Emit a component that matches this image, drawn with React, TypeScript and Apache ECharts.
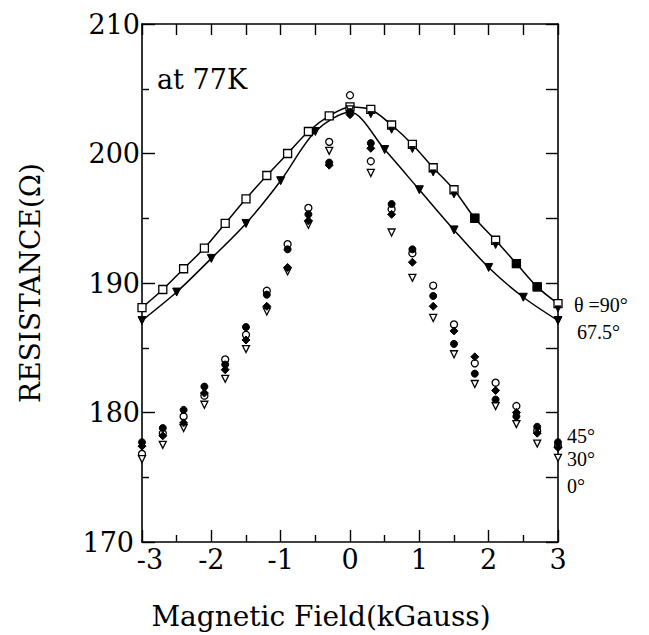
import React, { useEffect, useRef } from "react";
import * as echarts from "echarts";

const field = [-3.0, -2.7, -2.4, -2.1, -1.8, -1.5, -1.2, -0.9, -0.6, -0.3, 0.0, 0.3, 0.6, 0.9, 1.2, 1.5, 1.8, 2.1, 2.4, 2.7, 3.0];
const r90 = [188.1, 189.5, 191.1, 192.7, 194.6, 196.5, 198.3, 200.0, 201.7, 202.9, 203.6, 203.4, 202.2, 200.7, 198.9, 197.2, 195.0, 193.3, 191.5, 189.7, 188.4];
const field675 = [-3.0, -2.5, -2.0, -1.5, -1.0, -0.5, 0.0, 0.5, 1.0, 1.5, 2.0, 2.5, 3.0];
const r675 = [187.1, 189.3, 191.9, 194.6, 197.9, 201.7, 203.2, 200.3, 197.2, 194.1, 191.2, 188.9, 187.1];

const rOpenCircle = [176.8, 178.4, 179.7, 181.3, 184.1, 186.0, 189.4, 193.0, 195.8, 200.9, 204.5, 199.4, 195.7, 192.3, 189.8, 186.8, 183.8, 182.3, 180.5, 178.6, 177.4];
const r45 = [177.7, 178.8, 180.2, 182.0, 183.7, 186.6, 189.1, 192.6, 195.3, 199.3, 203.2, 200.8, 196.1, 192.6, 189.0, 185.3, 183.0, 181.0, 179.7, 178.9, 177.7];
const r30 = [177.4, 178.2, 179.2, 181.5, 183.3, 185.6, 188.2, 191.2, 194.8, 199.1, 203.0, 200.4, 195.3, 191.6, 188.2, 186.3, 184.3, 181.7, 180.0, 178.4, 177.3];
const r0 = [176.4, 177.5, 178.8, 180.6, 182.6, 184.9, 187.8, 190.9, 194.5, 200.2, 203.4, 198.5, 193.9, 190.4, 187.3, 184.5, 182.2, 180.5, 179.1, 177.6, 176.5];

const fieldOverlayTri = [0.3, 0.6, 0.9, 1.2, 1.5, 2.1, 3.0];
const rOverlayTri = [203.0, 201.8, 200.3, 198.5, 196.8, 192.9, 188.0];
const fieldFilledSq = [1.8, 2.4, 2.7];
const rFilledSq = [195.0, 191.5, 189.7];

const xTicks = [-3, -2, -1, 0, 1, 2, 3];
const yTicks = [170, 180, 190, 200, 210];

const angleLabels = ["θ =90°", "67.5°", "45°", "30°", "0°"];
const tempLabel = "at 77K";

const pairs = (xs: number[], ys: number[]) => xs.map((x, i) => [x, ys[i]]);

export default function App() {
  const ref = useRef<HTMLDivElement>(null);
  useEffect(() => {
    if (!ref.current) return;
    const chart = echarts.init(ref.current, null, { renderer: "svg" });
    const serif = "DejaVu Serif";
    const times = "Liberation Serif";
    const black = "#000";
    const openMarker = { color: "#fff", borderColor: black, borderWidth: 1.3, opacity: 1 };
    const filledMarker = { color: black, borderColor: black, borderWidth: 1, opacity: 1 };
    const sideLabel = (text: string, left: number, top: number) => ({
      type: "text",
      left,
      top,
      style: { text, font: `20px '${times}'`, fill: black },
    });
    const tickFont = { fontFamily: serif, fontSize: 27, color: black };
    chart.setOption({
      animation: false,
      backgroundColor: "#fff",
      grid: { left: 142, top: 24, width: 416, height: 519, containLabel: false },
      xAxis: [
        {
          type: "value",
          min: xTicks[0],
          max: xTicks[xTicks.length - 1],
          interval: 1,
          position: "bottom",
          name: "Magnetic Field(kGauss)",
          nameLocation: "middle",
          nameGap: 60,
          nameTextStyle: { fontFamily: serif, fontSize: 28, color: black, padding: [0, 58, 0, 0] },
          axisLine: { show: true, onZero: false, lineStyle: { color: black, width: 1.6 } },
          axisTick: { show: true, inside: true, length: 12, lineStyle: { color: black, width: 1.4 } },
          minorTick: { show: true, splitNumber: 2, length: 7, lineStyle: { color: black, width: 1.4 } },
          axisLabel: {
            ...tickFont,
            lineHeight: 16,
            margin: 9,
            formatter: (v: number) => (v === xTicks[0] ? `{lo|${v}}` : String(v)),
            rich: { lo: { ...tickFont, lineHeight: 16, padding: [0, 0, 0, 16] } },
          },
          splitLine: { show: false },
        },
        {
          type: "value",
          min: -3,
          max: 3,
          interval: 0.5,
          position: "top",
          axisLine: { show: true, onZero: false, lineStyle: { color: black, width: 1.6 } },
          axisTick: { show: true, inside: true, length: 11, lineStyle: { color: black, width: 1.4 } },
          axisLabel: { show: false },
          splitLine: { show: false },
        },
      ],
      yAxis: [
        {
          type: "value",
          min: yTicks[0],
          max: yTicks[yTicks.length - 1],
          interval: 10,
          position: "left",
          name: "RESISTANCE(Ω)",
          nameLocation: "middle",
          nameGap: 98,
          nameTextStyle: { fontFamily: serif, fontSize: 28, color: black },
          axisLine: { show: true, onZero: false, lineStyle: { color: black, width: 1.6 } },
          axisTick: { show: true, inside: true, length: 13, lineStyle: { color: black, width: 1.4 } },
          minorTick: { show: true, splitNumber: 2, length: 7, lineStyle: { color: black, width: 1.4 } },
          axisLabel: {
            ...tickFont,
            lineHeight: 16,
            margin: 2,
            formatter: (v: number) => (v === yTicks[0] ? `{lo|${v}}` : String(v)),
            rich: { lo: { ...tickFont, lineHeight: 16, padding: [0, 6, 0, 0] } },
          },
          splitLine: { show: false },
        },
        {
          type: "value",
          min: 170,
          max: 210,
          interval: 5,
          position: "right",
          axisLine: { show: true, onZero: false, lineStyle: { color: black, width: 1.6 } },
          axisTick: { show: true, inside: true, length: 12, lineStyle: { color: black, width: 1.4 } },
          axisLabel: { show: false },
          splitLine: { show: false },
        },
      ],
      series: [
        {
          name: "θ=90°",
          type: "line",
          smooth: 0.3,
          data: pairs(field, r90),
          symbol: "rect",
          symbolSize: 8,
          itemStyle: openMarker,
          lineStyle: { color: black, width: 1.5 },
          z: 3,
        },
        {
          name: "67.5°",
          type: "line",
          smooth: 0.3,
          data: pairs(field675, r675),
          symbol: "triangle",
          symbolRotate: 180,
          symbolSize: 8,
          itemStyle: filledMarker,
          lineStyle: { color: black, width: 1.5 },
          z: 2,
        },
        {
          name: "90° (overlay triangles)",
          type: "scatter",
          data: pairs(fieldOverlayTri, rOverlayTri),
          symbol: "triangle",
          symbolRotate: 180,
          symbolSize: 6,
          itemStyle: filledMarker,
          z: 4,
        },
        {
          name: "90° (filled squares)",
          type: "scatter",
          data: pairs(fieldFilledSq, rFilledSq),
          symbol: "rect",
          symbolSize: 8,
          itemStyle: filledMarker,
          z: 4,
        },
        {
          name: "open circles",
          type: "scatter",
          data: pairs(field, rOpenCircle),
          symbol: "circle",
          symbolSize: 7,
          itemStyle: openMarker,
          z: 5,
        },
        {
          name: "0°",
          type: "scatter",
          data: pairs(field, r0),
          symbol: "triangle",
          symbolRotate: 180,
          symbolSize: 7,
          itemStyle: openMarker,
          z: 5,
        },
        {
          name: "30°",
          type: "scatter",
          data: pairs(field, r30),
          symbol: "diamond",
          symbolSize: 8,
          itemStyle: filledMarker,
          z: 6,
        },
        {
          name: "45°",
          type: "scatter",
          data: pairs(field, r45),
          symbol: "circle",
          symbolSize: 7,
          itemStyle: filledMarker,
          z: 6,
        },
      ],
      graphic: [
        { type: "text", left: 157, top: 66, style: { text: tempLabel, font: `27px '${serif}'`, fill: black } },
        sideLabel(angleLabels[0], 574, 295),
        sideLabel(angleLabels[1], 577, 322),
        sideLabel(angleLabels[2], 567, 426),
        sideLabel(angleLabels[3], 567, 449),
        sideLabel(angleLabels[4], 567, 476),
      ],
    });
    return () => chart.dispose();
  }, []);
  return (
    <div
      ref={ref}
      style={{ position: "fixed", left: 0, top: 0, width: 649, height: 635, background: "#fff" }}
    />
  );
}
